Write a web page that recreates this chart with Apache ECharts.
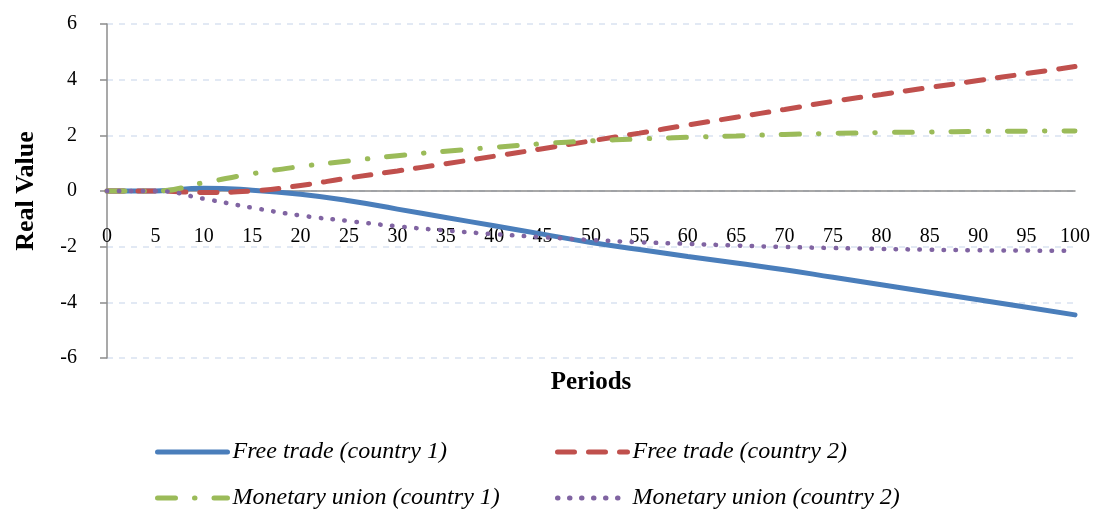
<!DOCTYPE html>
<html>
<head>
<meta charset="utf-8">
<script src="https://cdn.jsdelivr.net/npm/echarts@6/dist/echarts.min.js"></script>
<style>
  html, body { margin: 0; padding: 0; background: #fff; }
  #chart { width: 1096px; height: 514px; }
</style>
</head>
<body>
<div id="chart"></div>
<script>
const periods = [0, 5, 10, 15, 20, 25, 30, 35, 40, 45, 50, 55, 60, 65, 70, 75, 80, 85, 90, 95, 100]

const freeTrade1 = [0, 0, 0.1, 0.03, -0.12, -0.35, -0.65, -0.95, -1.25, -1.55, -1.85, -2.1, -2.35, -2.59, -2.83, -3.1, -3.37, -3.64, -3.91, -4.18, -4.45]
const freeTrade2 = [0, 0, -0.05, 0, 0.2, 0.47, 0.72, 0.98, 1.25, 1.52, 1.8, 2.08, 2.37, 2.65, 2.93, 3.22, 3.47, 3.72, 3.97, 4.22, 4.47]
const monetary1 = [0, 0, 0.3, 0.62, 0.88, 1.08, 1.27, 1.43, 1.57, 1.7, 1.8, 1.87, 1.93, 1.98, 2.03, 2.07, 2.1, 2.12, 2.14, 2.15, 2.16]
const monetary2 = [0, 0, -0.28, -0.6, -0.88, -1.08, -1.27, -1.42, -1.55, -1.66, -1.76, -1.84, -1.9, -1.96, -2.01, -2.05, -2.08, -2.11, -2.13, -2.14, -2.15]

const names = [
  'Free trade (country 1)',
  'Free trade (country 2)',
  'Monetary union (country 1)',
  'Monetary union (country 2)',
]

const serif = '"Liberation Serif", "DejaVu Serif", serif'
const pairs = (vals) => periods.map((p, i) => [p, vals[i]])

const chart = echarts.init(document.getElementById('chart'))

const line = (name, vals, color, dash, width) => ({
  name,
  type: 'line',
  data: pairs(vals),
  smooth: true,
  symbol: 'none',
  lineStyle: { color, width, type: dash, cap: 'round' },
  itemStyle: { color },
})

const legendAt = (name, left, top) => ({
  data: [name],
  left,
  top,
  padding: 0,
  itemWidth: 70,
  itemHeight: 14,
  itemGap: 0,
  itemStyle: { opacity: 0 },
  lineStyle: { width: 5, cap: 'round' },
  textStyle: { fontFamily: serif, fontStyle: 'italic', fontSize: 24, color: '#000' },
})

const option = {
  animation: false,
  grid: { left: 107, right: 21, top: 24, bottom: 156, outerBoundsMode: 'none' },
  xAxis: {
    type: 'value',
    min: 0,
    max: 100,
    interval: 5,
    name: 'Periods',
    nameLocation: 'middle',
    nameGap: 12,
    nameTextStyle: { fontFamily: serif, fontWeight: 'bold', fontSize: 25, color: '#000' },
    axisLine: { onZero: true, lineStyle: { color: '#8c8c8c', width: 1.5 } },
    axisTick: { show: false },
    // labels sit just under the zero line, like the original
    axisLabel: { fontFamily: serif, fontSize: 20, color: '#000', margin: -131 },
    splitLine: { show: false },
  },
  yAxis: {
    type: 'value',
    min: -6,
    max: 6,
    interval: 2,
    offset: 4,
    name: 'Real Value',
    nameLocation: 'middle',
    nameGap: 64,
    nameTextStyle: { fontFamily: serif, fontWeight: 'bold', fontSize: 26, color: '#000' },
    axisLine: { show: true, lineStyle: { color: '#8c8c8c', width: 1.5 } },
    axisTick: { show: true, length: 7, lineStyle: { color: '#8c8c8c', width: 1.5 } },
    axisLabel: { fontFamily: serif, fontSize: 20, color: '#000', margin: 26 },
    splitLine: { show: true, lineStyle: { color: '#d9e2f1', width: 1.5, type: [6, 6] } },
  },
  legend: [
    legendAt(names[0], 155, 440),
    legendAt(names[1], 555, 440),
    legendAt(names[2], 155, 486),
    legendAt(names[3], 555, 486),
  ],
  series: [
    line(names[0], freeTrade1, '#4a7ebb', 'solid', 5),
    line(names[1], freeTrade2, '#c0504d', [17, 14], 5),
    line(names[2], monetary1, '#9bbb59', [18, 19, 0.5, 19], 5),
    line(names[3], monetary2, '#8064a2', [0.5, 11.5], 4.5),
  ],
}

chart.setOption(option)
</script>
</body>
</html>
